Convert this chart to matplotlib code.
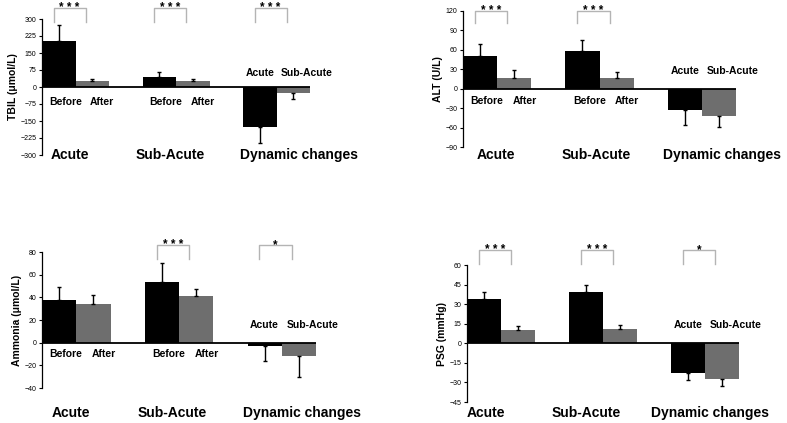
import numpy as np
import matplotlib.pyplot as plt

plt.rcParams['font.family'] = ['Liberation Sans', 'DejaVu Sans']

groups = ['Acute', 'Sub-Acute', 'Dynamic changes']

# TBIL (umol/L)
tbil_black = [201, 44, -175]
tbil_black_err = [72, 24, 72]
tbil_grey = [28, 26, -28]
tbil_grey_err = [9, 9, 26]
tbil_sig = ['* * *', '* * *', '* * *']

# ALT (U/L)
alt_black = [50, 58, -33]
alt_black_err = [19, 17, 23]
alt_grey = [17, 16, -42]
alt_grey_err = [12, 10, 17]
alt_sig = ['* * *', '* * *', '']

# Ammonia (umol/L)
amm_black = [38, 53.5, -3]
amm_black_err = [11, 17, 13]
amm_grey = [34.4, 41, -12]
amm_grey_err = [8, 6, 18]
amm_sig = ['', '* * *', '*']

# PSG (mmHg)
psg_black = [34, 39, -23]
psg_black_err = [5.5, 5.5, 5.5]
psg_grey = [10.5, 11.3, -27.5]
psg_grey_err = [2.5, 3, 5.5]
psg_sig = ['* * *', '* * *', '*']

W, H = 787, 423
fig = plt.figure(figsize=(W / 100, H / 100), dpi=100)


def panel(rect_px, black, black_err, grey, grey_err, sig, ylabel, yticks,
          sig_y, before_after, ba_off, dyn_off, grp_y, grp_dx):
    l, t, r, b = rect_px
    ax = fig.add_axes([l / W, 1 - b / H, (r - l) / W, (b - t) / H])
    centers = np.array([1, 4, 7])
    xb = centers - 0.5
    xg = centers + 0.5
    ax.bar(xb, black, width=1, color='black', zorder=2)
    ax.bar(xg, grey, width=1, color='#6e6e6e', zorder=2)
    # one-sided error bars (away from zero)
    for x, v, e in list(zip(xb, black, black_err)) + list(zip(xg, grey, grey_err)):
        s = 1 if v >= 0 else -1
        ax.errorbar(x, v, yerr=[[0], [e]] if s > 0 else [[e], [0]], fmt='none',
                    ecolor='black', elinewidth=1, capsize=1.5, capthick=1, zorder=3)
    ax.axhline(0, color='black', lw=1.3, zorder=4)
    ax.set_xlim(0, 8)
    ax.set_ylim(yticks[0], yticks[-1])
    ax.set_yticks(yticks)
    ax.set_yticklabels([str(v).replace('-', '\u2212') for v in yticks])
    ax.tick_params(axis='y', labelsize=5, length=2.5, width=0.8, pad=1.5)
    ax.set_xticks([])
    for sp in ['top', 'right', 'bottom']:
        ax.spines[sp].set_visible(False)
    ax.spines['left'].set_linewidth(0.9)
    ax.set_ylabel(ylabel, fontsize=7.5, fontweight='bold', labelpad=2)

    lo, hi = sig_y
    for c, s in zip(centers, sig):
        if not s:
            continue
        x0, x1 = c - 0.65, c + 0.3
        ax.plot([x0, x0, x1, x1], [lo, hi, hi, lo], color='#b4b4b4', lw=1,
                clip_on=False)
        ax.annotate(s, xy=((x0 + x1) / 2, hi), xytext=(0, 0),
                    textcoords='offset points', ha='center', va='center',
                    fontsize=8.5, fontweight='bold', annotation_clip=False)

    if before_after:
        for c in centers[:2]:
            ax.annotate('Before', xy=(c - 0.5 + 0.2, 0), xytext=(0, -ba_off),
                        textcoords='offset points', ha='center', va='center',
                        fontsize=7.5, fontweight='bold')
            ax.annotate('After', xy=(c + 0.5 + 0.3, 0), xytext=(0, -ba_off),
                        textcoords='offset points', ha='center', va='center',
                        fontsize=7.5, fontweight='bold')
    ax.annotate('Acute', xy=(centers[2] - 0.5, 0), xytext=(0, dyn_off),
                textcoords='offset points', ha='center', va='center',
                fontsize=7.5, fontweight='bold')
    ax.annotate('Sub-Acute', xy=(centers[2] + 0.9, 0), xytext=(0, dyn_off),
                textcoords='offset points', ha='center', va='center',
                fontsize=7.5, fontweight='bold')

    tr = ax.get_xaxis_transform()
    for c, g, dx in zip(centers, groups, grp_dx):
        ax.text(c + dx, grp_y, g, transform=tr, ha='center', va='center',
                fontsize=10, fontweight='bold', clip_on=False)
    return ax


panel((42, 19, 310, 155), tbil_black, tbil_black_err, tbil_grey, tbil_grey_err,
      tbil_sig, 'TBIL (\u03bcmol/L)', [-300, -225, -150, -75, 0, 75, 150, 225, 300],
      (288, 350), True, 11, 10, 0.0, [-0.18, -0.18, 0.68])

panel((463, 11, 736, 147), alt_black, alt_black_err, alt_grey, alt_grey_err,
      alt_sig, 'ALT (U/L)', [-90, -60, -30, 0, 30, 60, 90, 120],
      (102, 120), True, 8.5, 12.5, -0.061, [-0.03, -0.09, 0.6])

panel((42, 252, 316, 388), amm_black, amm_black_err, amm_grey, amm_grey_err,
      amm_sig, 'Ammonia (\u03bcmol/L)', [-40, -20, 0, 20, 40, 60, 80],
      (73.6, 86), True, 8.5, 13, -0.184, [-0.16, -0.2, 0.6])

panel((467, 265, 739, 402), psg_black, psg_black_err, psg_grey, psg_grey_err,
      psg_sig, 'PSG (mmHg)', [-45, -30, -15, 0, 15, 30, 45, 60],
      (61, 71.4), False, 0, 13.5, -0.083, [-0.45, -0.5, 0.16])

fig.savefig('out.png', dpi=100)
